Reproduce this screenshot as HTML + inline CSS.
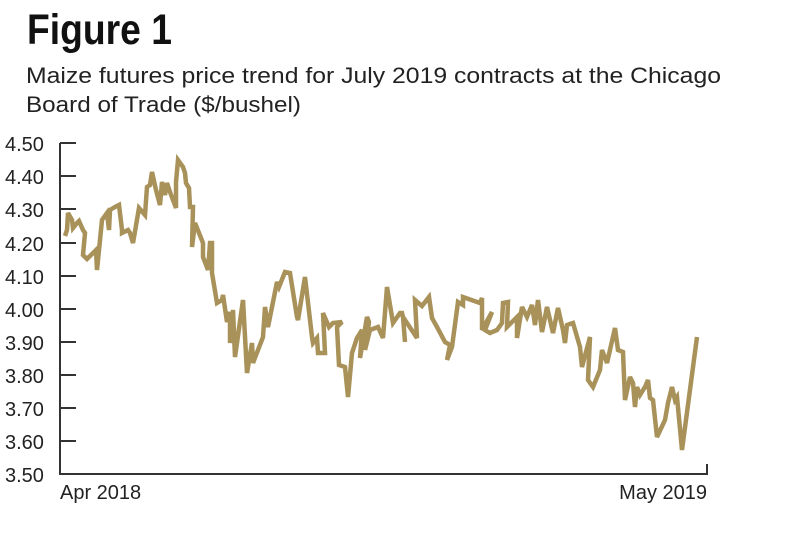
<!DOCTYPE html>
<html><head><meta charset="utf-8"><style>
body{margin:0;background:#fff;width:790px;height:540px;overflow:hidden;font-family:"Liberation Sans",sans-serif;}
</style></head><body>
<svg width="790" height="540" viewBox="0 0 790 540" xmlns="http://www.w3.org/2000/svg">
<text x="27" y="44" font-family="Liberation Sans" font-weight="bold" font-size="43" fill="#111" textLength="145" lengthAdjust="spacingAndGlyphs">Figure 1</text>
<text x="26" y="83" font-family="Liberation Sans" font-size="22" fill="#222" textLength="695" lengthAdjust="spacingAndGlyphs">Maize futures price trend for July 2019 contracts at the Chicago</text>
<text x="26" y="112" font-family="Liberation Sans" font-size="22" fill="#222" textLength="275" lengthAdjust="spacingAndGlyphs">Board of Trade ($/bushel)</text>
<g stroke="#333" stroke-width="2" fill="none">
<line x1="60" y1="143" x2="60" y2="475"/>
<line x1="60" y1="474" x2="707" y2="474"/>
<line x1="707" y1="464" x2="707" y2="475"/>
<line x1="60" y1="143" x2="76" y2="143"/><line x1="60" y1="176" x2="76" y2="176"/><line x1="60" y1="209" x2="76" y2="209"/><line x1="60" y1="243" x2="76" y2="243"/><line x1="60" y1="276" x2="76" y2="276"/><line x1="60" y1="309" x2="76" y2="309"/><line x1="60" y1="342" x2="76" y2="342"/><line x1="60" y1="375" x2="76" y2="375"/><line x1="60" y1="408" x2="76" y2="408"/><line x1="60" y1="441" x2="76" y2="441"/>
</g>
<g font-family="Liberation Sans" font-size="20" fill="#222">
<text x="5" y="151">4.50</text><text x="5" y="184">4.40</text><text x="5" y="217">4.30</text><text x="5" y="251">4.20</text><text x="5" y="284">4.10</text><text x="5" y="317">4.00</text><text x="5" y="350">3.90</text><text x="5" y="383">3.80</text><text x="5" y="416">3.70</text><text x="5" y="449">3.60</text><text x="5" y="482">3.50</text>
<text x="60" y="499">Apr 2018</text><text x="707" y="499" text-anchor="end">May 2019</text>
</g>
<polyline fill="none" stroke="#a8925a" stroke-width="4.5" stroke-linejoin="miter" stroke-miterlimit="3" points="65,236 67,230 68,213 72,220 73,228 77,223 79,221 83,230 85,233 83,255 87,259 96,250 97,270 102,220 107,213 109,230 110,210 115,207 119,205 122,230 122,233 128,230 130,233 133,243 139,208 145,215 147,187 150,185 152,172 156,190 160,205 162,182 165,195 167,183 170,192 176,208 176,182 178,160 183,167 185,173 186,183 189,188 190,207 193,207 192,247 195,223 199,233 203,243 203,257 208,270 210,243 212,243 212,273 217,303 222,300 223,295 227,322 230,312 230,343 233,310 235,357 243,300 247,373 252,343 253,363 263,337 265,307 268,327 277,282 279,287 285,272 290,273 297,317 298,320 305,277 312,337 313,343 317,338 318,353 325,353 323,313 329,327 333,323 342,322 337,327 339,365 345,367 348,397 352,353 357,338 362,330 360,358 367,317 369,322 365,350 370,330 378,327 383,338 387,287 393,323 400,313 402,313 403,317 405,342 403,317 417,338 415,300 422,306 429,297 432,318 437,327 445,342 450,345 447,360 452,347 458,302 463,305 463,297 480,303 482,298 482,330 492,312 485,330 490,333 497,330 502,323 503,303 508,302 507,327 517,317 517,338 522,307 527,317 532,305 535,325 538,300 542,332 547,307 553,333 558,308 563,330 565,343 567,325 573,323 580,347 582,367 590,337 588,380 593,387 600,370 602,350 607,363 615,328 618,350 623,352 625,400 630,377 633,383 635,407 637,387 640,395 645,387 648,380 650,398 653,400 657,437 665,420 668,403 672,387 675,400 677,397 682,450 697,337"/>
</svg>
</body></html>
